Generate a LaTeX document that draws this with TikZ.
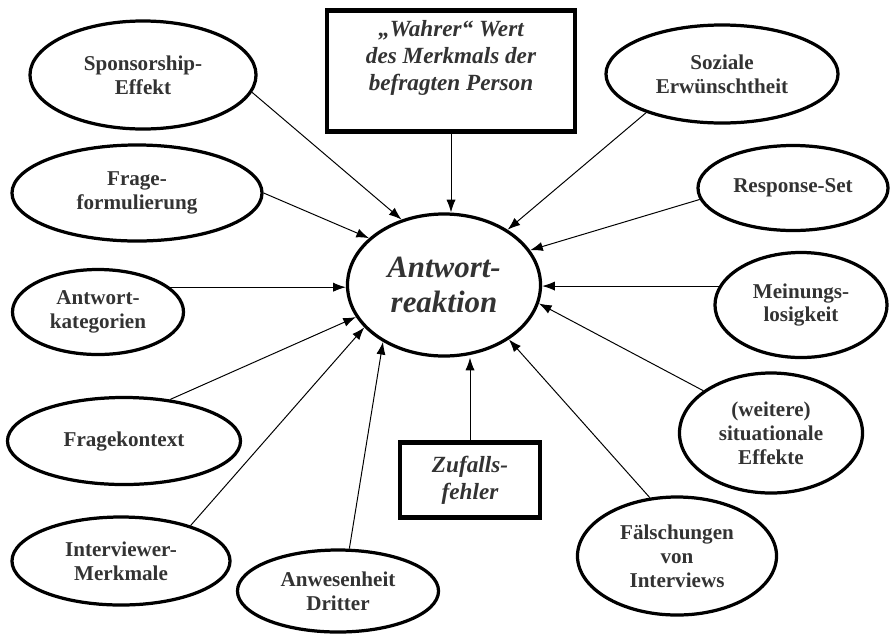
\documentclass[tikz,border=0pt]{standalone}
\usepackage{fontspec}
\setmainfont{Liberation Serif}
\usetikzlibrary{shapes.geometric,arrows.meta}
\definecolor{schrift}{RGB}{51,51,51}

\tikzset{
	feld/.style={ellipse, draw, line width=2.3pt, inner sep=0pt, align=center, text=schrift, font=\bfseries\fontsize{15}{17}\selectfont},
	kasten/.style={rectangle, draw, line width=3pt, inner sep=0pt},
	ktext/.style={align=center, text=schrift, font=\bfseries\itshape\fontsize{16.5}{19}\selectfont},
	pfeil/.style={-{Latex[length=9pt,width=6.5pt]}, line width=0.7pt}
}

\begin{document}
\begin{tikzpicture}[x=0.025cm,y=-0.025cm]
	\useasboundingbox (0,0) rectangle (892,633);
	
	% Antwortreaktion in der Mitte
	\node[feld, minimum width=4.825cm, minimum height=3.55cm, font=\bfseries\itshape\fontsize{22}{25}\selectfont] (antw) at (444,285) {Antwort-\\reaktion};
	
	% Kaesten
	\node[kasten, minimum width=6.2cm, minimum height=3.025cm] (wahr) at (451,71) {};
	\node[ktext] (wahrtext) at (451,58) {„Wahrer“ Wert\\des Merkmals der\\befragten Person};
	\node[kasten, minimum width=3.5cm, minimum height=1.875cm, ktext] (zufall) at (470,480) {Zufalls-\\fehler};
	
	% linke Seite
	\node[feld, minimum width=5.65cm, minimum height=2.7cm] (spons) at (143,75) {Sponsorship-\\Effekt};
	\node[feld, minimum width=6.25cm, minimum height=2.4cm] (frform) at (137,193) {Frage-\\formulierung};
	\node[feld, minimum width=4.275cm, minimum height=2.125cm] (antkat) at (98,312) {Antwort-\\kategorien};
	\node[feld, minimum width=5.825cm, minimum height=2.175cm] (fkontext) at (124,441) {Fragekontext};
	\node[feld, minimum width=5.45cm, minimum height=2.2cm] (intmerk) at (121,561) {Interviewer-\\Merkmale};
	\node[feld, minimum width=5.025cm, minimum height=2.05cm] (anwes) at (338,591) {Anwesenheit\\Dritter};
	
	% rechte Seite
	\node[feld, minimum width=5.8cm, minimum height=2.45cm] (sozial) at (722,74) {Soziale\\Erwünschtheit};
	\node[feld, minimum width=4.75cm, minimum height=2.125cm] (resp) at (793,188) {Response-Set};
	\node[feld, minimum width=4.3cm, minimum height=2.625cm] (mein) at (801,305) {Meinungs-\\losigkeit};
	\node[feld, minimum width=4.575cm, minimum height=3.0cm] (situ) at (771,433) {(weitere)\\situationale\\Effekte};
	\node[feld, minimum width=4.975cm, minimum height=2.95cm] (faelsch) at (677,556) {Fälschungen\\von\\Interviews};
	
	% Pfeile
	\draw[pfeil] (wahr.south) -- (wahr.south |- antw.north);
	\draw[pfeil] (zufall.north) -- (zufall.north |- antw.south);
	\draw[pfeil] (spons.-9) -- (antw.123);
	\draw[pfeil] (frform.0) -- (antw.148);
	\draw[pfeil] (antkat.19) -- (antkat.19 -| antw.west);
	\draw[pfeil] (fkontext.42) -- (antw.200);
	\draw[pfeil] (intmerk.27) -- (antw.208);
	\draw[pfeil] (anwes.75) -- (antw.223);
	\draw[pfeil] (sozial.207) -- (antw.41);
	\draw[pfeil] (resp.187) -- (antw.22);
	\draw[pfeil] (mein.167) -- (mein.167 -| antw.east);
	\draw[pfeil] (situ.148) -- (antw.-11);
	\draw[pfeil] (faelsch.115) -- (antw.-40);
\end{tikzpicture}
\end{document}
